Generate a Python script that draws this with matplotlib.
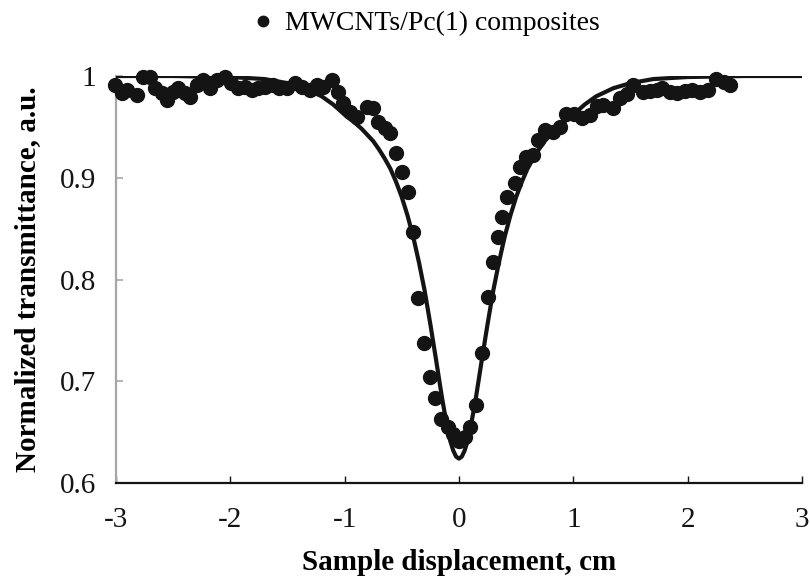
import matplotlib.pyplot as plt

plt.rcParams['font.family'] = ['Liberation Serif', 'DejaVu Serif']

# open-aperture z-scan: measured points
z_data = [-3.01, -2.95, -2.90, -2.82, -2.76, -2.70, -2.66, -2.60, -2.55, -2.50,
          -2.46, -2.40, -2.35, -2.29, -2.24, -2.18, -2.12, -2.05, -1.99, -1.93,
          -1.87, -1.81, -1.76, -1.70, -1.63, -1.57, -1.50, -1.43, -1.37, -1.30,
          -1.24, -1.19, -1.11, -1.06, -1.01, -0.95, -0.89, -0.80, -0.75, -0.71,
          -0.65, -0.60, -0.55, -0.50, -0.45, -0.40, -0.36, -0.31, -0.25, -0.21,
          -0.16, -0.10, -0.05, 0.00, 0.05, 0.10, 0.15, 0.20, 0.25, 0.30,
          0.34, 0.38, 0.42, 0.49, 0.53, 0.59, 0.65, 0.69, 0.75, 0.82,
          0.88, 0.94, 1.01, 1.08, 1.15, 1.21, 1.26, 1.35, 1.41, 1.47,
          1.52, 1.61, 1.67, 1.73, 1.78, 1.85, 1.91, 1.98, 2.04, 2.11,
          2.18, 2.25, 2.32, 2.37]
t_data = [0.991, 0.983, 0.986, 0.981, 0.999, 0.999, 0.988, 0.983, 0.976, 0.984,
          0.988, 0.983, 0.979, 0.991, 0.996, 0.988, 0.996, 0.999, 0.993, 0.988,
          0.989, 0.986, 0.988, 0.989, 0.991, 0.988, 0.988, 0.993, 0.989, 0.986,
          0.991, 0.989, 0.996, 0.984, 0.973, 0.965, 0.960, 0.970, 0.969, 0.955,
          0.949, 0.944, 0.924, 0.906, 0.886, 0.847, 0.782, 0.738, 0.704, 0.684,
          0.663, 0.655, 0.648, 0.641, 0.645, 0.655, 0.677, 0.728, 0.783, 0.817,
          0.842, 0.861, 0.881, 0.895, 0.911, 0.920, 0.922, 0.937, 0.947, 0.945,
          0.950, 0.963, 0.963, 0.959, 0.962, 0.971, 0.972, 0.969, 0.978, 0.982,
          0.991, 0.984, 0.985, 0.986, 0.988, 0.984, 0.983, 0.985, 0.986, 0.984,
          0.986, 0.997, 0.994, 0.991]

# fitted curve
z_fit = [-3.0, -2.5, -2.0, -1.7, -1.5, -1.35, -1.2, -1.1, -1.0, -0.9,
         -0.85, -0.75, -0.7, -0.65, -0.6, -0.55, -0.5, -0.45, -0.4, -0.35,
         -0.3, -0.25, -0.2, -0.175, -0.15, -0.125, -0.1, -0.075, -0.05, -0.025,
         0.0,
         0.025, 0.05, 0.075, 0.1, 0.125, 0.15, 0.175, 0.2, 0.25, 0.3,
         0.35, 0.4, 0.45, 0.5, 0.55, 0.6, 0.65, 0.7, 0.75, 0.85,
         0.9, 1.0, 1.1, 1.2, 1.35, 1.5, 1.7, 2.0, 2.5, 3.0]
t_fit = [1.0, 1.0, 0.999, 0.997, 0.993, 0.988, 0.980, 0.972, 0.962, 0.953,
         0.948, 0.936, 0.928, 0.919, 0.909, 0.896, 0.881, 0.863, 0.842, 0.817,
         0.789, 0.756, 0.721, 0.703, 0.685, 0.669, 0.654, 0.641, 0.632, 0.626,
         0.624,
         0.626, 0.632, 0.641, 0.654, 0.669, 0.685, 0.703, 0.721, 0.756, 0.789,
         0.817, 0.842, 0.863, 0.881, 0.896, 0.909, 0.919, 0.928, 0.936, 0.948,
         0.953, 0.962, 0.972, 0.980, 0.988, 0.993, 0.997, 0.999, 1.0, 1.0]

ink = '#141414'

fig = plt.figure(figsize=(8.1, 5.82), dpi=100)
ax = fig.add_axes([0.1432, 0.170, 0.8468, 0.6994])

ax.plot(z_fit, t_fit, color=ink, linewidth=3.0, zorder=3,
        solid_joinstyle='round')
ax.plot(z_data, t_data, 'o', color=ink, markersize=10, linestyle='none',
        clip_on=False, zorder=4, label='MWCNTs/Pc(1) composites')

ax.set_xlim(-3, 3)
ax.set_ylim(0.6, 1.0)
ax.set_xticks([-3, -2, -1, 0, 1, 2, 3])
ax.set_xticklabels(['-3', '-2', '-1', '0', '1', '2', '3'])
ax.set_yticks([0.6, 0.7, 0.8, 0.9, 1.0])
ax.set_yticklabels(['0.6', '0.7', '0.8', '0.9', '1'])

ax.spines['top'].set_visible(False)
ax.spines['right'].set_visible(False)
ax.spines['left'].set_color('#a6a6a6')
ax.spines['left'].set_linewidth(1.6)
ax.spines['bottom'].set_color(ink)
ax.spines['bottom'].set_linewidth(1.6)

ax.tick_params(axis='x', direction='in', length=5, width=1.0, colors=ink,
               labelsize=21, pad=17)
ax.tick_params(axis='y', direction='in', length=5, width=1.2, color='#a6a6a6',
               labelcolor=ink, labelsize=21, pad=14)

ax.set_xlabel('Sample displacement, cm', fontsize=21, fontweight='bold',
              labelpad=12)
ax.set_ylabel('Normalized transmittance, a.u.', fontsize=21, fontweight='bold',
              labelpad=14)

ax.legend(loc='lower center', bbox_to_anchor=(0.44, 1.07), frameon=False,
          fontsize=20, handletextpad=-0.2, markerscale=0.75, borderaxespad=0)

fig.savefig('out.png', dpi=100)
